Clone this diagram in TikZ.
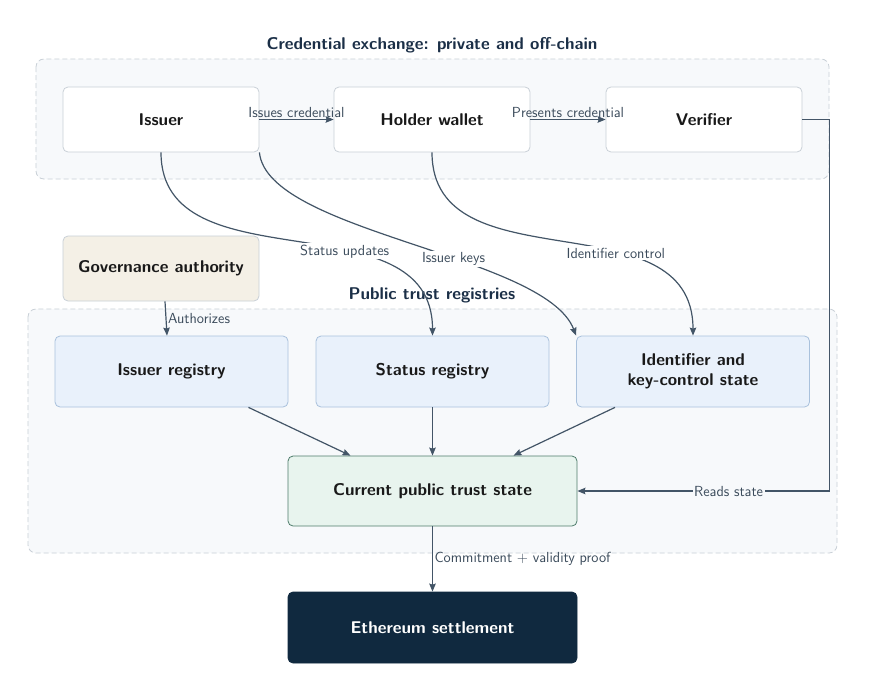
\documentclass[tikz,border=0pt]{standalone}
\usepackage{fontspec}
\usepackage{tikz}
\usetikzlibrary{arrows.meta,calc}
\definecolor{ink}{HTML}{1B2F47}
\definecolor{wire}{HTML}{435567}
\definecolor{lbltext}{HTML}{3B4B5B}
\definecolor{edge}{HTML}{C9D0D7}
\definecolor{pane}{HTML}{F7F9FB}
\definecolor{regfill}{HTML}{E9F1FB}
\definecolor{regedge}{HTML}{A9C1DC}
\definecolor{govfill}{HTML}{F4F0E6}
\definecolor{statefill}{HTML}{E8F4EE}
\definecolor{stateedge}{HTML}{4E7C6B}
\definecolor{chain}{HTML}{10293F}

\begin{document}
\begin{tikzpicture}[x=1pt,y=-1pt,font=\sffamily,
  region/.style={draw=edge,dash pattern=on 5pt off 3pt,fill=pane,rounded corners=8pt,line width=0.8pt},
  zone/.style={font=\sffamily\bfseries\fontsize{17}{20}\selectfont,text=ink},
  box/.style={draw=edge,fill=white,rounded corners=5pt,line width=0.8pt,minimum width=196,minimum height=65,
    align=center,text=black!90,font=\sffamily\bfseries\fontsize{17}{20}\selectfont},
  regbox/.style={box,fill=regfill,draw=regedge,minimum width=233,minimum height=71},
  link/.style={draw=wire,line width=1.2pt,-{Stealth[length=8pt,width=6.5pt,inset=1pt]}},
  lbl/.style={font=\sffamily\fontsize{14.6}{17}\selectfont,text=lbltext,inner sep=1.5pt}]
\fill[white] (0,0) rectangle (880,688);
\useasboundingbox (0,0) rectangle (880,688);
\draw[region] (36,59) rectangle (829,179);
\draw[region] (28,309) rectangle (837,553);
\node[zone] (title1) at (432,45) {Credential exchange: private and off-chain};
\node[zone] (title2) at (432,295) {Public trust registries};
\foreach \n/\x/\t in {iss/161/Issuer, hold/432/Holder wallet, ver/704/Verifier}
  \node[box] (\n) at (\x,119.5) {\t};
\node[box,fill=govfill] (gov) at (161,268.5) {Governance authority};
\foreach \n/\x/\t in {ireg/171.5/Issuer registry, sreg/432.5/Status registry, idreg/693/{Identifier and\\key-control state}}
  \node[regbox] (\n) at (\x,371.5) {\t};
\node[box,fill=statefill,draw=stateedge,minimum width=289,minimum height=70] (cur) at (432.5,491) {Current public trust state};
\node[box,fill=chain,draw=chain,text=white,minimum width=289,minimum height=71] (eth) at (432.5,627.5) {Ethereum settlement};
\coordinate (bend) at ($(ver.east)+(27,0)$);
\draw[link] (iss.east) -- node[lbl,above]{Issues credential} (hold.west);
\draw[link] (hold.east) -- node[lbl,above]{Presents credential} (ver.west);
\draw[link] (iss.south) .. controls +(0,135) and +(0,-140) .. node[lbl,fill=white,pos=0.62]{Status updates} (sreg.north);
\draw[link] (iss.south east) .. controls +(8,80) and +(-31,-81) .. node[lbl,fill=white,pos=0.6]{Issuer keys} (idreg.north west);
\draw[link] (hold.south) .. controls +(0,135) and +(0,-140) .. node[lbl,fill=white,pos=0.64]{Identifier control} (idreg.north);
\draw[link] ($(gov.south)+(4,0)$) -- node[lbl,right]{Authorizes} ($(ireg.north)+(-4.5,0)$);
\draw[link] ($(ireg.south)+(77,0)$) -- ($(cur.north)+(-82,0)$);
\draw[link] (sreg.south) -- (cur.north);
\draw[link] ($(idreg.south)+(-78,0)$) -- ($(cur.north)+(81,0)$);
\draw[link] (ver.east) -- (bend) |- node[lbl,fill=pane,pos=0.7]{Reads state} (cur.east);
\draw[link] (cur.south) -- node[lbl,right]{Commitment + validity proof} (eth.north);
\end{tikzpicture}
\end{document}
